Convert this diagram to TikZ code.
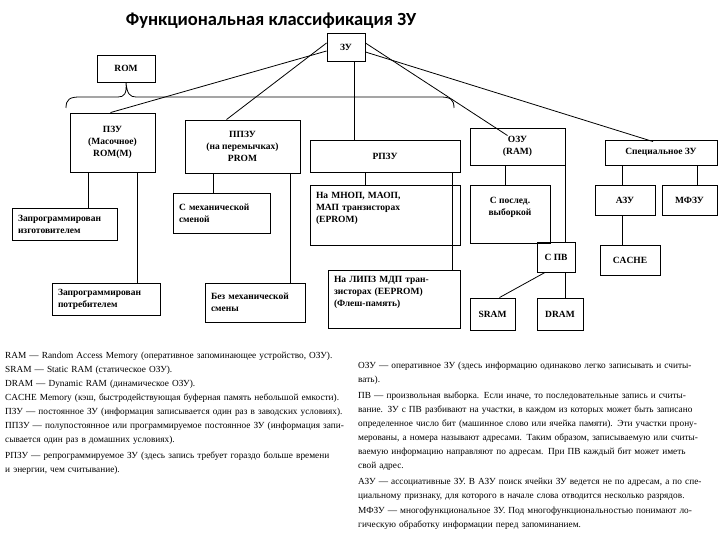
\documentclass[tikz,border=0pt]{standalone}
\usepackage{fontspec}
\setmainfont{Liberation Serif}
\newfontfamily\titlefont{Carlito}
\newcommand{\jline}[1]{\makebox[\hsize][s]{#1}}
\begin{document}
\begin{tikzpicture}[x=1pt,y=-1pt,
  box/.style={draw, line width=0.9pt, font=\fontsize{9.5}{12}\selectfont\bfseries, align=center, inner sep=2pt},
  lbox/.style={box, align=left, text width=#1, inner xsep=6pt},
  link/.style={line width=0.8pt},
  note/.style={font=\fontsize{9.3}{14}\selectfont, align=left, inner sep=0pt, anchor=north west}]
\useasboundingbox (0,0) rectangle (720,540);
\fill[white] (0,0) rectangle (720,540);

\node[font=\titlefont\bfseries\fontsize{18.5}{21}\selectfont, anchor=base] (title) at (271,26) {Функциональная классификация ЗУ};

% row 0
\node[box, minimum width=38, minimum height=28] (zu) at (346,47) {ЗУ};
\node[box, minimum width=58, minimum height=27] (rom) at (126,68.5) {ROM};
% row 1
\node[box, minimum width=85, minimum height=59] (pzu) at (112.5,142.5) {ПЗУ\\(Масочное)\\ROM(M)};
\node[box, minimum width=115, minimum height=53] (ppzu) at (242.5,146.5) {ППЗУ\\(на перемычках)\\PROM};
\node[box, minimum width=150, minimum height=32] (rpzu) at (385,156) {РПЗУ};
\node[box, minimum width=95, minimum height=37] (ozu) at (517.5,146.5) {ОЗУ\\(RAM)};
\node[box, minimum width=112, minimum height=25] (spec) at (661,152.5) {Специальное ЗУ};
% row 2
\node[lbox=93, minimum height=32] (izg) at (64.5,224) {Запрограммирован\\изготовителем};
\node[lbox=85, minimum height=40] (mech) at (221.5,213) {С механической\\сменой};
\node[lbox=138, minimum height=60] (mnop) at (385,215) {На МНОП, МАОП,\\МАП транзисторах\\(EPROM)\\ \strut};
\node[box, minimum width=80, minimum height=58] (posl) at (510,214) {С послед.\\выборкой\\ \strut};
\node[box, minimum width=60, minimum height=30] (azu) at (625,200) {АЗУ};
\node[box, minimum width=55, minimum height=30] (mfzu) at (689.5,200) {МФЗУ};
% row 3
\node[lbox=96, minimum height=32] (potr) at (106,299) {Запрограммирован\\потребителем};
\node[lbox=88, minimum height=39] (bez) at (255,302.5) {Без механической\\смены};
\node[lbox=120, minimum height=58] (lipz) at (394,299) {На ЛИПЗ МДП тран-\\зисторах (EEPROM)\\(Флеш-память)\\ \strut};
\node[box, minimum width=38, minimum height=30] (spv) at (556,257) {С ПВ};
\node[box, minimum width=60, minimum height=30] (cache) at (630,260) {CACHE};
\node[box, minimum width=45, minimum height=32] (sram) at (492.5,314) {SRAM};
\node[box, minimum width=46, minimum height=32] (dram) at (560,314) {DRAM};

% brace under ROM
\draw[link] (66,108) .. controls (66,99) and (70,97) .. (80,97) -- (118,97)
  .. controls (124,97) and (127,94) .. (rom.south) .. controls (127,94) and (130,97) .. (136,97)
  -- (440,97) .. controls (450,97) and (454,99) .. (454,108);

% links from ZU
\draw[link] ([yshift=-4]zu.west) -- ([xshift=-2]pzu.north);
\draw[link] ([yshift=4]zu.west) -- ([xshift=-16]ppzu.north);
\draw[link] ([xshift=8]zu.south) -- ([xshift=8]zu.south |- rpzu.north);
\draw[link] ([yshift=4]zu.east) -- ([xshift=-10,yshift=-8]ozu.north);
\draw[link] ([yshift=-5]zu.east) -- ([xshift=-8,yshift=-2]spec.north);

% vertical links
\draw[link] ([xshift=-24.5]pzu.south) -- ([xshift=-24.5]pzu.south |- izg.north);
\draw[link] ([xshift=24.5]pzu.south) -- ([xshift=24.5]pzu.south |- potr.north);
\draw[link] ([xshift=-29.5]ppzu.south) -- ([xshift=-29.5]ppzu.south |- mech.north);
\draw[link] ([xshift=47.5]ppzu.south) -- ([xshift=47.5]ppzu.south |- bez.north);
\draw[link] ([xshift=-20]rpzu.south) -- ([xshift=-20]rpzu.south |- mnop.north);
\draw[link] ([xshift=67]rpzu.south) -- ([xshift=67]rpzu.south |- lipz.north);
\draw[link] ([xshift=-12.5]ozu.south) -- ([xshift=-12.5]ozu.south |- posl.north);
\draw[link] ([xshift=47.5]ozu.south) -- ([xshift=47.5]ozu.south |- spv.north);
\draw[link] ([xshift=-39]spec.south) -- ([xshift=-39]spec.south |- azu.north);
\draw[link] ([xshift=36]spec.south) -- ([xshift=36]spec.south |- mfzu.north);
\draw[link] ([xshift=-3]azu.south) -- ([xshift=-3]azu.south |- cache.north);
\draw[link] ([xshift=9]spv.south) -- ([xshift=9]spv.south |- dram.north);
\draw[link] ([xshift=-11]spv.south) -- ([xshift=7]sram.north);

% notes
\node[note, text width=340] (notesl) at (5,352) {%
\mbox{RAM — Random Access Memory (оперативное запоминающее устройство, ОЗУ).}\\
SRAM — Static RAM (статическое ОЗУ).\\
DRAM — Dynamic RAM (динамическое ОЗУ).\\
\mbox{CACHE Memory (кэш, быстродействующая буферная память небольшой емкости).}\\
\mbox{ПЗУ — постоянное ЗУ (информация записывается один раз в заводских условиях).}\\
\jline{ППЗУ — полупостоянное или программируемое постоянное ЗУ (информация запи-}\\
сывается один раз в домашних условиях).\\[2pt]
\jline{РПЗУ — репрограммируемое ЗУ (здесь запись требует гораздо больше времени}\\
и энергии, чем считывание).};

\node[note, text width=357] (notesr) at (358,362) {%
\jline{ОЗУ — оперативное ЗУ (здесь информацию одинаково легко записывать и считы-}\\
вать).\\[1.5pt]
\jline{ПВ — произвольная выборка. Если иначе, то последовательные запись и считы-}\\
\jline{вание. ЗУ с ПВ разбивают на участки, в каждом из которых может быть записано}\\
\jline{определенное число бит (машинное слово или ячейка памяти). Эти участки прону-}\\
\jline{мерованы, а номера называют адресами. Таким образом, записываемую или считы-}\\
\jline{ваемую информацию направляют по адресам. При ПВ каждый бит может иметь}\\
свой адрес.\\[2pt]
\jline{АЗУ — ассоциативные ЗУ. В АЗУ поиск ячейки ЗУ ведется не по адресам, а по спе-}\\
\mbox{циальному признаку, для которого в начале слова отводится несколько разрядов.}\\[1.5pt]
\jline{МФЗУ — многофункциональное ЗУ. Под многофункциональностью понимают ло-}\\
гическую обработку информации перед запоминанием.};
\end{tikzpicture}
\end{document}
